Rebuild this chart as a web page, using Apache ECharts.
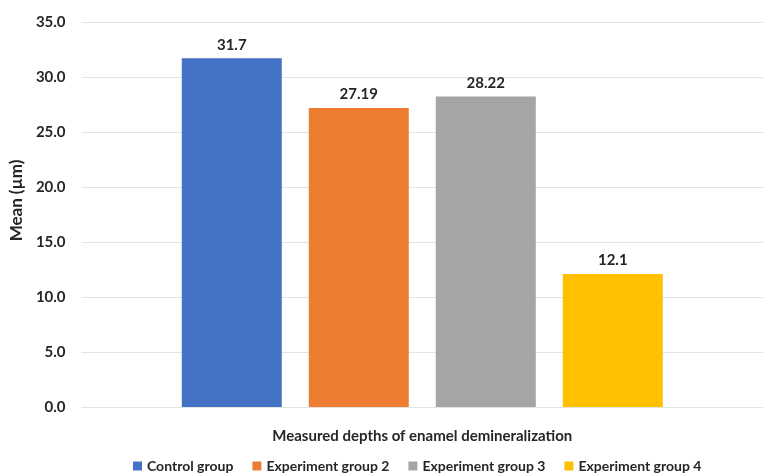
<!DOCTYPE html>
<html><head><meta charset="utf-8">
<script src="https://cdn.jsdelivr.net/npm/echarts@6/dist/echarts.min.js"></script>
<style>html,body{margin:0;padding:0;background:#fff}#c{width:763px;height:476px}</style>
</head><body><div id="c"></div>
<script>
const categories = ['Measured depths of enamel demineralization'];
const seriesNames = ['Control group', 'Experiment group 2', 'Experiment group 3', 'Experiment group 4'];
const seriesValues = [31.7, 27.19, 28.22, 12.1];
const seriesLabels = ['31.7', '27.19', '28.22', '12.1'];
const colors = ['#4472C4', '#ED7D31', '#A5A5A5', '#FFC000'];
const yTicks = { min: 0, max: 35, interval: 5 };

const font = 'Lato';
const chart = echarts.init(document.getElementById('c'));
chart.setOption({
  animation: false,
  grid: { left: 72, right: -24, top: 22, bottom: 69 },
  legend: {
    top: 454, left: 128,
    data: seriesNames,
    itemWidth: 9, itemHeight: 9, itemGap: 19,
    icon: 'rect',
    textStyle: { fontFamily: font, fontSize: 14, fontWeight: 'bold', color: '#262626' }
  },
  xAxis: {
    type: 'category', data: categories,
    axisLine: { show: false }, axisTick: { show: false }, axisLabel: { show: false },
    name: categories[0], nameLocation: 'middle', nameGap: 22,
    nameTextStyle: { fontFamily: font, fontSize: 15, fontWeight: 'bold', color: '#262626' }
  },
  yAxis: {
    type: 'value', min: yTicks.min, max: yTicks.max, interval: yTicks.interval,
    axisLabel: { formatter: v => v.toFixed(1), fontFamily: font, fontSize: 15, fontWeight: 'bold', color: '#262626', margin: 16 },
    splitLine: { lineStyle: { color: '#e3e3e3', width: 1 } },
    axisLine: { show: false }, axisTick: { show: false },
    name: 'Mean (µm)', nameLocation: 'middle', nameGap: 50, nameRotate: 90,
    nameTextStyle: { fontFamily: font, fontSize: 17, fontWeight: 'bold', color: '#262626', padding: [0, 0, 0, 28] }
  },
  series: seriesNames.map((n, i) => ({
    name: n, type: 'bar', data: [seriesValues[i]],
    barWidth: 100, barGap: '27%',
    itemStyle: { color: colors[i] },
    label: { show: true, position: 'top', distance: 6, formatter: seriesLabels[i],
      fontFamily: font, fontSize: 15, fontWeight: 'bold', color: '#262626' }
  }))
});
</script></body></html>
